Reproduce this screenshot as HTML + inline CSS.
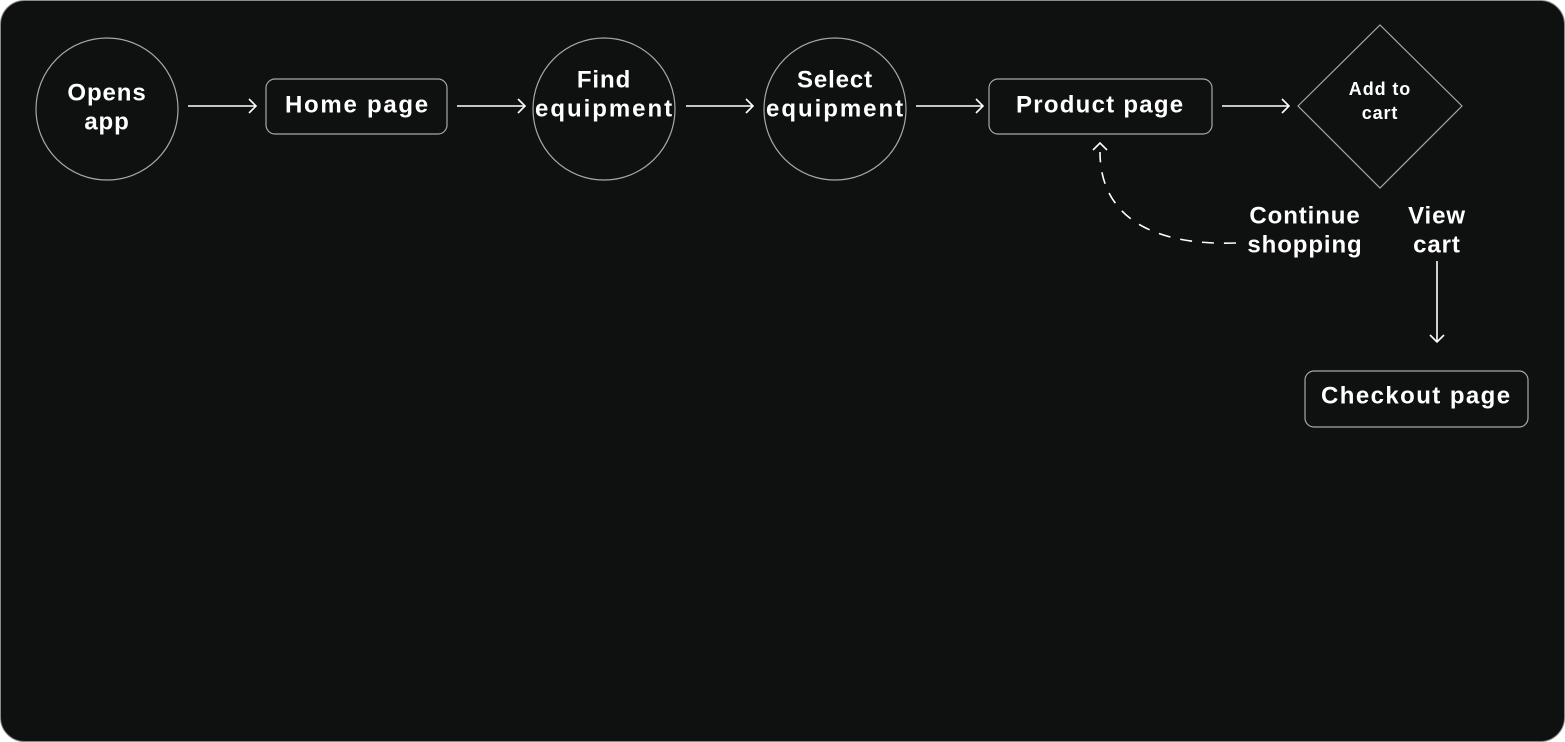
<!DOCTYPE html>
<html><head><style>
html,body{margin:0;padding:0;background:#fff;}
svg{display:block;}
text{font-family:"Liberation Sans",sans-serif;font-weight:bold;fill:#fff;text-anchor:middle;dominant-baseline:middle;letter-spacing:0.9px;}
</style></head><body>
<svg width="1565" height="742" viewBox="0 0 1565 742">
<rect x="0.5" y="0.5" width="1564" height="741" rx="24" fill="#0f1110" stroke="#8a8a8a" stroke-width="1"/>
<g fill="none" stroke="#a8a8a8" stroke-width="1.2">
<circle cx="107" cy="109" r="71"/>
<circle cx="604" cy="109" r="71"/>
<circle cx="835" cy="109" r="71"/>
<rect x="266" y="79" width="181" height="55" rx="9"/>
<rect x="989" y="79" width="223" height="55" rx="9"/>
<rect x="1305" y="371" width="223" height="56" rx="9"/>
<polygon points="1380,25 1462,106 1380,188 1298,106"/>
</g>
<g fill="none" stroke="#fff" stroke-width="1.6">
<path d="M188 106H256M249 99L256 106L249 113"/>
<path d="M457 106H525M518 99L525 106L518 113"/>
<path d="M686 106H753M746 99L753 106L746 113"/>
<path d="M916 106H983M976 99L983 106L976 113"/>
<path d="M1222 106H1289M1282 99L1289 106L1282 113"/>
<path d="M1437 261V342M1430 335L1437 342L1444 335"/>
<path d="M1236 243C1150 246 1100 215 1100 152" stroke-dasharray="12 10"/>
<path d="M1093 150L1100 143L1107 150"/>
</g>
<g font-size="24">
<text x="107" y="94">Opens</text>
<text x="107" y="123">app</text>
<text x="357" y="106" textLength="144">Home page</text>
<text x="604" y="81">Find</text>
<text x="604" y="110" textLength="138">equipment</text>
<text x="835" y="81">Select</text>
<text x="835" y="110" textLength="138">equipment</text>
<text x="1100" y="106" textLength="168">Product page</text>
<text x="1305" y="217">Continue</text>
<text x="1305" y="246">shopping</text>
<text x="1437" y="217">View</text>
<text x="1437" y="246">cart</text>
<text x="1416" y="397" textLength="190">Checkout page</text>
</g>
<text x="1380" y="90" font-size="18">Add to</text>
<text x="1380" y="114" font-size="18">cart</text>
</svg>
</body></html>
